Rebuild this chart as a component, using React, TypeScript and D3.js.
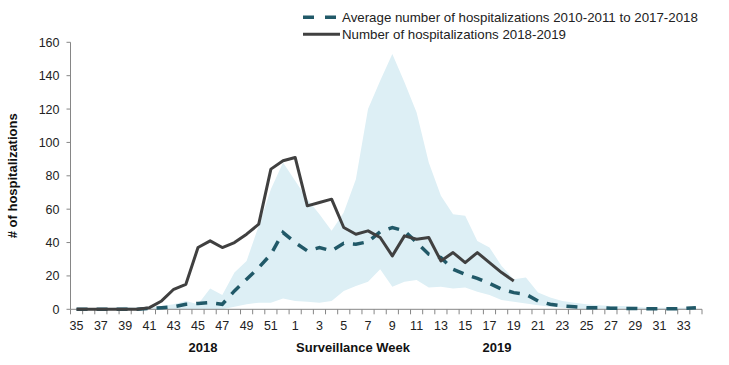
import * as React from "react";
import * as d3 from "d3";

// surveillance weeks, 2018 then 2019
const weeks: number[] = [
  35, 36, 37, 38, 39, 40, 41, 42, 43, 44, 45, 46, 47, 48, 49, 50, 51, 52,
  1, 2, 3, 4, 5, 6, 7, 8, 9, 10, 11, 12, 13, 14, 15, 16, 17, 18, 19, 20,
  21, 22, 23, 24, 25, 26, 27, 28, 29, 30, 31, 32, 33, 34,
];

const tickWeeks: number[] = [
  35, 37, 39, 41, 43, 45, 47, 49, 51, 1, 3, 5, 7, 9, 11, 13, 15, 17, 19, 21,
  23, 25, 27, 29, 31, 33,
];

const yTicks: number[] = [0, 20, 40, 60, 80, 100, 120, 140, 160];

// average 2010-2011 to 2017-2018
const average: number[] = [
  0, 0, 0, 0, 0, 0, 0.5, 1, 1.5, 3, 3.5, 4, 3, 11, 18, 25, 33, 46,
  40, 35, 37, 35, 39.5, 39, 40.5, 46.5, 49, 47, 40, 33, 31, 24, 21, 18.5, 15.5, 12, 10, 9,
  5, 3, 2, 1.5, 1, 1, 0.7, 0.5, 0.5, 0.3, 0.3, 0.3, 0.5, 1,
];

// 2018-2019 season (only up to week 19)
const current: (number | null)[] = [
  0, 0, 0, 0, 0, 0, 1, 5, 12, 15, 37, 41, 37, 40, 45, 51, 84, 89,
  91, 62, 64, 66, 49, 45, 47, 43, 32, 44, 42, 43, 29, 34, 28, 34, 28, 22, 17,
  null, null, null, null, null, null, null, null, null, null, null, null, null, null, null,
];

// min / max of previous seasons
const rangeHigh: number[] = [
  0.5, 0.5, 1, 1, 1.5, 1, 1, 2, 3, 5, 3, 12.5, 8.5, 22, 29, 50, 72, 88,
  77, 66, 57, 47, 58, 78, 120, 137, 153, 136, 118, 88, 68, 57, 56, 41, 37, 26, 18, 19,
  10, 7, 5, 4, 3, 2.5, 2, 2, 1.5, 1, 1, 1, 1, 1.5,
];
const rangeLow: number[] = [
  0, 0, 0, 0, 0, 0, 0, 0, 0, 0, 0, 0, 0, 1.5, 3, 4, 4, 6.5,
  5, 4.5, 4, 5, 11, 14, 16.5, 24, 13.5, 16.5, 17.5, 13, 13.5, 12.5, 13, 10.5, 8.5, 5.5, 4.5, 3.5,
  2.5, 1.5, 1, 0.5, 0, 0, 0, 0, 0, 0, 0, 0, 0, 0,
];

const legendLabels = [
  "Average number of hospitalizations 2010-2011 to 2017-2018",
  "Number of hospitalizations 2018-2019",
];

function drawChart(svgRef: React.RefObject<SVGSVGElement>) {
  const svg = d3.select(svgRef.current);
  svg.selectAll("*").remove();

  const font = '"Liberation Sans", Arial, sans-serif';
  const left = 70.5;
  const right = 702;
  const top = 42.3;
  const bottom = 309.3;

  const x = d3.scaleBand<number>().domain(weeks).range([left, right]).padding(0);
  const cx = (w: number) => x(w)! + x.bandwidth() / 2;
  const y = d3.scaleLinear().domain([0, 160]).range([bottom, top]);

  // range band
  const area = d3
    .area<number>()
    .x((_d, i) => cx(weeks[i]))
    .y0((_d, i) => y(rangeLow[i]))
    .y1((d) => y(d));

  svg
    .append("path")
    .attr("d", area(rangeHigh))
    .attr("fill", "#ddeff5");

  // y axis
  const yAxis = svg.append("g").attr("font-family", font);
  yAxis
    .append("line")
    .attr("x1", left)
    .attr("x2", left)
    .attr("y1", top)
    .attr("y2", bottom)
    .attr("stroke", "#868686");
  yAxis
    .selectAll("g.tick")
    .data(yTicks)
    .enter()
    .append("g")
    .attr("class", "tick")
    .each(function (d) {
      const g = d3.select(this);
      g.append("line")
        .attr("x1", left - 4)
        .attr("x2", left)
        .attr("y1", y(d))
        .attr("y2", y(d))
        .attr("stroke", "#868686");
      g.append("text")
        .attr("x", left - 11)
        .attr("y", y(d) + 4.5)
        .attr("text-anchor", "end")
        .attr("font-size", "12.5px")
        .attr("fill", "#222")
        .text(d);
    });

  svg
    .append("text")
    .attr("transform", `translate(17, ${(top + bottom) / 2}) rotate(-90)`)
    .attr("text-anchor", "middle")
    .attr("font-family", font)
    .attr("font-weight", "bold")
    .attr("font-size", "13px")
    .attr("fill", "#111")
    .text("# of hospitalizations");

  // x axis
  const xAxis = svg.append("g").attr("font-family", font);
  xAxis
    .append("line")
    .attr("x1", left)
    .attr("x2", right)
    .attr("y1", bottom)
    .attr("y2", bottom)
    .attr("stroke", "#868686");
  const edges = weeks.map((w) => x(w)!).concat([right]);
  xAxis
    .selectAll("line.tick")
    .data(edges)
    .enter()
    .append("line")
    .attr("class", "tick")
    .attr("x1", (d) => d)
    .attr("x2", (d) => d)
    .attr("y1", bottom)
    .attr("y2", bottom + 5)
    .attr("stroke", "#868686");
  xAxis
    .selectAll("text.label")
    .data(tickWeeks)
    .enter()
    .append("text")
    .attr("class", "label")
    .attr("x", (d) => cx(d))
    .attr("y", bottom + 21)
    .attr("text-anchor", "middle")
    .attr("font-size", "12.5px")
    .attr("fill", "#222")
    .text((d) => d);

  const bottomTitles = [
    { text: "2018", x: 203 },
    { text: "Surveillance Week", x: 353 },
    { text: "2019", x: 497 },
  ];
  svg
    .selectAll("text.title")
    .data(bottomTitles)
    .enter()
    .append("text")
    .attr("class", "title")
    .attr("x", (d) => d.x)
    .attr("y", 352)
    .attr("text-anchor", "middle")
    .attr("font-family", font)
    .attr("font-weight", "bold")
    .attr("font-size", "13px")
    .attr("fill", "#111")
    .text((d) => d.text);

  /* lines */
  const line = d3
    .line<number | null>()
    .defined((d) => d !== null)
    .x((_d, i) => cx(weeks[i]))
    .y((d) => y(d as number));

  svg
    .append("path")
    .attr("d", line(average))
    .attr("fill", "none")
    .attr("stroke", "#215968")
    .attr("stroke-width", 3.5)
    .attr("stroke-dasharray", "11,9");

  svg
    .append("path")
    .attr("d", line(current))
    .attr("fill", "none")
    .attr("stroke", "#404040")
    .attr("stroke-width", 3)
    .attr("stroke-linejoin", "round");

  // legend
  const legend = svg.append("g").attr("font-family", font);
  legend
    .append("line")
    .attr("x1", 303)
    .attr("x2", 337)
    .attr("y1", 17.3)
    .attr("y2", 17.3)
    .attr("stroke", "#215968")
    .attr("stroke-width", 3.5)
    .attr("stroke-dasharray", "11,11");
  legend
    .append("line")
    .attr("x1", 303)
    .attr("x2", 340)
    .attr("y1", 34.3)
    .attr("y2", 34.3)
    .attr("stroke", "#404040")
    .attr("stroke-width", 3);
  legend
    .selectAll("text")
    .data(legendLabels)
    .enter()
    .append("text")
    .attr("x", 342)
    .attr("y", (_d, i) => 22 + i * 17)
    .attr("font-size", "13.3px")
    .attr("fill", "#222")
    .text((d) => d);
}

export default function App() {
  const svg = React.useRef<SVGSVGElement>(null);
  React.useEffect(() => {
    drawChart(svg);
  }, [svg]);

  return (
    <svg
      ref={svg}
      width={729}
      height={365}
      style={{ position: "absolute", left: 0, top: 0, background: "#fff" }}
    />
  );
}
